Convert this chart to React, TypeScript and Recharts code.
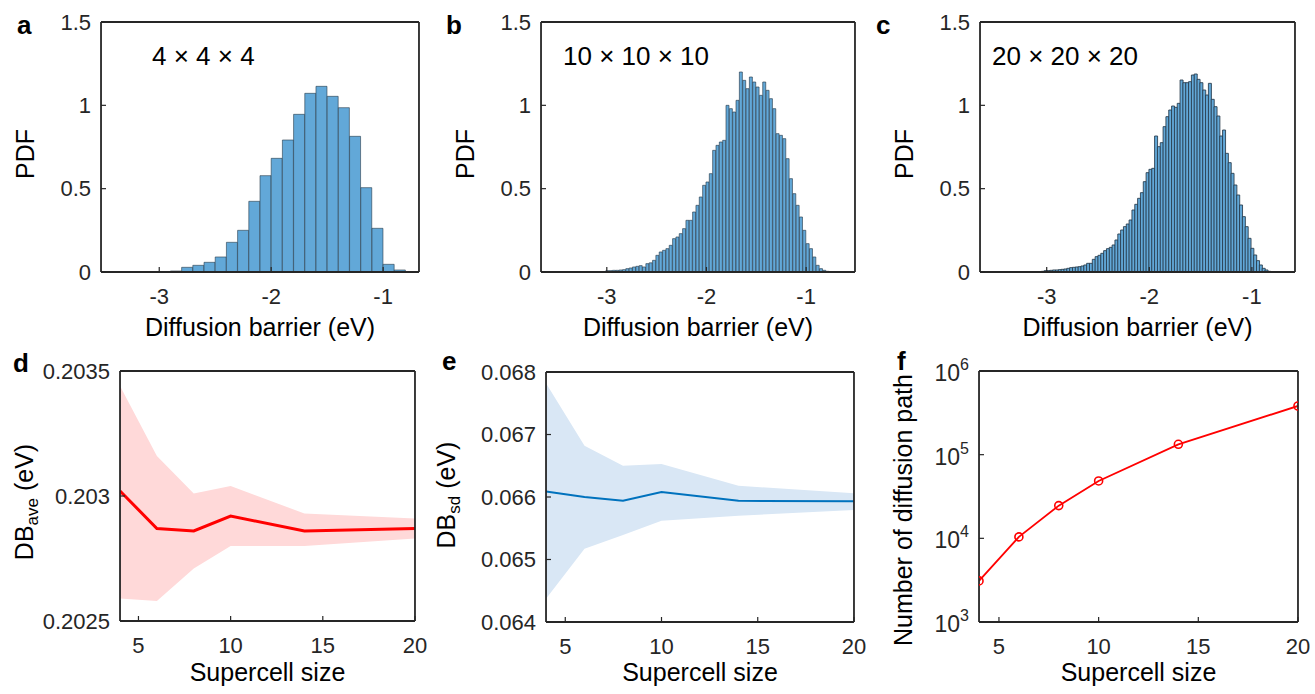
import React from 'react';
import { ComposedChart, Bar, Line, Area, XAxis, YAxis } from 'recharts';

const W = 1315;
const H = 694;
const INK = '#262626';
const FONT = '"Liberation Sans", Arial, Helvetica, sans-serif';

// ---- a/b/c: histograms of diffusion barriers (PDF) ----
const histA = [0.002, 0, 0.002, 0.002, 0, 0.006, 0.028, 0.04, 0.058, 0.09, 0.178, 0.25, 0.424, 0.578, 0.682,
  0.792, 0.946, 1.072, 1.114, 1.054, 0.986, 0.814, 0.506, 0.262, 0.046, 0.012];
const binA = { start: -3.4, width: 0.1 };

const histB = [0.008, 0.008, 0.01, 0.01, 0.012, 0.014, 0.02, 0.024, 0.03, 0.034,
  0.038, 0.03, 0.05, 0.055, 0.07, 0.1, 0.12, 0.13, 0.14, 0.16,
  0.2, 0.21, 0.23, 0.26, 0.31, 0.31, 0.36, 0.4, 0.45, 0.52,
  0.54, 0.59, 0.73, 0.76, 0.78, 0.79, 1.0, 0.98, 0.96, 1.03,
  1.2, 1.15, 1.1, 1.17, 1.14, 1.11, 1.06, 1.14, 1.09, 1.04,
  0.98, 0.83, 0.82, 0.8, 0.68, 0.56, 0.47, 0.4, 0.33, 0.25,
  0.17, 0.14, 0.09, 0.04, 0.02, 0.01, 0.004];
const binB = { start: -3.01, width: 0.0335 };

const histC = [0.002, 0.004, 0.008, 0.008, 0.01, 0.012, 0.012, 0.014, 0.016, 0.018,
  0.022, 0.026, 0.028, 0.03, 0.032, 0.036, 0.042, 0.052, 0.052, 0.076,
  0.092, 0.1, 0.112, 0.128, 0.14, 0.148, 0.162, 0.192, 0.228, 0.252,
  0.272, 0.288, 0.312, 0.372, 0.406, 0.442, 0.476, 0.542, 0.596, 0.616,
  0.622, 0.816, 0.752, 0.776, 0.872, 0.932, 0.972, 0.996, 0.988, 1.012,
  1.152, 1.136, 1.136, 1.142, 1.182, 1.188, 1.156, 1.136, 1.092, 1.062,
  1.132, 1.036, 0.992, 0.936, 0.816, 0.852, 0.712, 0.656, 0.592, 0.522,
  0.462, 0.402, 0.332, 0.272, 0.202, 0.142, 0.102, 0.068, 0.042, 0.022,
  0.012, 0.004];
const binC = { start: -3.08, width: 0.0276 };

const pdfTicks = [0, 0.5, 1, 1.5];
const pdfMinor = [0.1, 0.2, 0.3, 0.4, 0.6, 0.7, 0.8, 0.9, 1.1, 1.2, 1.3, 1.4];
const ebTicks = [-3, -2, -1];
const ebMinor = [-3.6, -3.4, -3.2, -2.8, -2.6, -2.4, -2.2, -1.8, -1.6, -1.4, -1.2, -0.8, -0.6];

// ---- d/e/f: convergence with supercell size ----
const sizes = [4, 6, 8, 10, 14, 20];
const aveMean = [0.20302, 0.20287, 0.20286, 0.20292, 0.20286, 0.20287];
const aveLow = [0.20259, 0.20258, 0.20271, 0.2028, 0.2028, 0.20283];
const aveHigh = [0.20344, 0.20316, 0.20301, 0.20304, 0.20293, 0.20291];

const sdMean = [0.06609, 0.066, 0.06594, 0.06608, 0.06594, 0.06593];
const sdLow = [0.06437, 0.06517, 0.06539, 0.06562, 0.0657, 0.06579];
const sdHigh = [0.06782, 0.06682, 0.0665, 0.06653, 0.06618, 0.06606];

const paths = [3100, 10400, 24600, 48500, 133000, 382000];

const sizeTicks = [5, 10, 15, 20];
const sizeMinor = [6, 7, 8, 9, 11, 12, 13, 14, 16, 17, 18, 19];
const aveTicks = [0.2025, 0.203, 0.2035];
const aveMinor = [0.2026, 0.2027, 0.2028, 0.2029, 0.2031, 0.2032, 0.2033, 0.2034];
const sdTicks = [0.064, 0.065, 0.066, 0.067, 0.068];
const sdMinor = [0.0642, 0.0644, 0.0646, 0.0648, 0.0652, 0.0654, 0.0656, 0.0658, 0.0662, 0.0664,
  0.0666, 0.0668, 0.0672, 0.0674, 0.0676, 0.0678];
const pathTicks = [1e3, 1e4, 1e5, 1e6];
const pathMinor = [2e3, 3e3, 4e3, 5e3, 6e3, 7e3, 8e3, 9e3, 2e4, 3e4, 4e4, 5e4, 6e4, 7e4, 8e4, 9e4,
  2e5, 3e5, 4e5, 5e5, 6e5, 7e5, 8e5, 9e5];

const binRows = (bin: { start: number; width: number }, h: number[]) =>
  h.map((y, i) => ({ x: bin.start + (i + 0.5) * bin.width, y }));

const aveRows = sizes.map((x, i) => ({ x, y: aveMean[i], band: [aveLow[i], aveHigh[i]] }));
const sdRows = sizes.map((x, i) => ({ x, y: sdMean[i], band: [sdLow[i], sdHigh[i]] }));
const pathRows = sizes.map((x, i) => ({ x, y: paths[i] }));

type Box = { l: number; t: number; r: number; b: number };
type Cfg = {
  box: Box;
  xDomain: [number, number];
  yDomain: [number, number];
  xMajor: number[];
  xMinor: number[];
  yMajor: number[];
  yMinor: number[];
  log?: boolean;
};

const tickFont = { fill: INK, fontSize: 22, fontFamily: FONT };

const PowTick = (props: any) => {
  const { x, y, payload } = props;
  const e = Math.round(Math.log10(payload.value));
  return (
    <text x={x} y={y + 10} textAnchor="end" fill={INK} fontSize={23} fontFamily={FONT}>
      10<tspan dy={-11} fontSize={16}>{e}</tspan>
    </text>
  );
};

function frameAxes(c: Cfg) {
  const line = { stroke: INK, strokeWidth: 1.8 };
  const tl = { stroke: INK, strokeWidth: 1.2 };
  const base = { type: 'number' as const, allowDataOverflow: true, interval: 0 as const, stroke: INK, tickLine: tl };
  const xs = { ...base, domain: c.xDomain, height: 0.01 };
  const ys = { ...base, domain: c.yDomain, width: 0.01, scale: (c.log ? 'log' : 'linear') as any };
  return [
    <XAxis key="x" xAxisId="x" dataKey="x" {...xs} ticks={c.xMajor} tick={tickFont} tickSize={-5} tickMargin={21} axisLine={line} />,
    <XAxis key="xm" xAxisId="xm" {...xs} ticks={c.xMinor} tick={false} tickSize={-3} axisLine={false} />,
    <XAxis key="xt" xAxisId="xt" orientation="top" {...xs} ticks={c.xMajor} tick={false} tickSize={-5} axisLine={line} />,
    <XAxis key="xtm" xAxisId="xtm" orientation="top" {...xs} ticks={c.xMinor} tick={false} tickSize={-3} axisLine={false} />,
    <YAxis key="y" yAxisId="y" {...ys} ticks={c.yMajor} tick={c.log ? <PowTick /> : tickFont} tickSize={-5} tickMargin={15} axisLine={line} />,
    <YAxis key="ym" yAxisId="ym" {...ys} ticks={c.yMinor} tick={false} tickSize={-3} axisLine={false} />,
    <YAxis key="yr" yAxisId="yr" orientation="right" {...ys} ticks={c.yMajor} tick={false} tickSize={-5} axisLine={line} />,
    <YAxis key="yrm" yAxisId="yrm" orientation="right" {...ys} ticks={c.yMinor} tick={false} tickSize={-3} axisLine={false} />,
  ];
}

const margins = (b: Box) => ({ top: b.t, left: b.l, right: W - b.r, bottom: H - b.b });
const layer: React.CSSProperties = { position: 'absolute', left: 0, top: 0 };

const Histogram = ({ cfg, rows, edge, ew }: { cfg: Cfg; rows: { x: number; y: number }[]; edge: number; ew: number }) => (
  <div style={layer}>
    <ComposedChart width={W} height={H} data={rows} margin={margins(cfg.box)} barCategoryGap={0} barGap={0}>
      {frameAxes(cfg)}
      <Bar xAxisId="x" yAxisId="y" dataKey="y" fill="#62A8D8" stroke="#263a4a" strokeOpacity={edge} strokeWidth={ew} isAnimationActive={false} />
    </ComposedChart>
  </div>
);

const BandPlot = ({ cfg, rows, band, line, lw }: { cfg: Cfg; rows: any[]; band: string; line: string; lw: number }) => (
  <div style={layer}>
    <ComposedChart width={W} height={H} data={rows} margin={margins(cfg.box)}>
      {frameAxes(cfg)}
      <Area xAxisId="x" yAxisId="y" type="linear" dataKey="band" fill={band} fillOpacity={1} stroke="none" isAnimationActive={false} />
      <Line xAxisId="x" yAxisId="y" type="linear" dataKey="y" stroke={line} strokeWidth={lw} dot={false} isAnimationActive={false} />
    </ComposedChart>
  </div>
);

const cfgA: Cfg = { box: { l: 101, t: 22, r: 419, b: 272 }, xDomain: [-3.52, -0.68], yDomain: [0, 1.5], xMajor: ebTicks, xMinor: ebMinor.filter(v => v > -3.52 && v < -0.68), yMajor: pdfTicks, yMinor: pdfMinor };
const cfgB: Cfg = { box: { l: 541, t: 22, r: 855, b: 272 }, xDomain: [-3.66, -0.51], yDomain: [0, 1.5], xMajor: ebTicks, xMinor: ebMinor, yMajor: pdfTicks, yMinor: pdfMinor };
const cfgC: Cfg = { box: { l: 980, t: 22, r: 1295, b: 272 }, xDomain: [-3.65, -0.58], yDomain: [0, 1.5], xMajor: ebTicks, xMinor: ebMinor.filter(v => v < -0.58), yMajor: pdfTicks, yMinor: pdfMinor };
const cfgD: Cfg = { box: { l: 120, t: 371, r: 415, b: 621 }, xDomain: [4, 20], yDomain: [0.2025, 0.2035], xMajor: sizeTicks, xMinor: sizeMinor, yMajor: aveTicks, yMinor: aveMinor };
const cfgE: Cfg = { box: { l: 546, t: 372, r: 854, b: 622 }, xDomain: [4, 20], yDomain: [0.064, 0.068], xMajor: sizeTicks, xMinor: sizeMinor, yMajor: sdTicks, yMinor: sdMinor };
const cfgF: Cfg = { box: { l: 979, t: 371, r: 1298, b: 622 }, xDomain: [4, 20], yDomain: [1e3, 1e6], xMajor: sizeTicks, xMinor: sizeMinor, yMajor: pathTicks, yMinor: pathMinor, log: true };

const txt = { fill: '#000', fontFamily: FONT };

const YTitle = ({ x, y, children }: { x: number; y: number; children: React.ReactNode }) => (
  <text transform={`translate(${x},${y}) rotate(-90)`} textAnchor="middle" fontSize={25} {...txt}>{children}</text>
);

const XTitle = ({ b, y, children }: { b: Box; y: number; children: React.ReactNode }) => (
  <text x={(b.l + b.r) / 2} y={y} textAnchor="middle" fontSize={25} {...txt}>{children}</text>
);

const Tag = ({ x, y, t }: { x: number; y: number; t: string }) => (
  <text x={x} y={y} fontSize={26} fontWeight="bold" {...txt}>{t}</text>
);

export default function App() {
  return (
    <div style={{ position: 'absolute', left: 0, top: 0, width: W, height: H, background: '#fff', overflow: 'hidden' }}>
      <Histogram cfg={cfgA} rows={binRows(binA, histA)} edge={0.75} ew={0.8} />
      <Histogram cfg={cfgB} rows={binRows(binB, histB)} edge={0.8} ew={0.8} />
      <Histogram cfg={cfgC} rows={binRows(binC, histC)} edge={0.85} ew={1} />
      <BandPlot cfg={cfgD} rows={aveRows} band="#FFD9D9" line="#FF0000" lw={3} />
      <BandPlot cfg={cfgE} rows={sdRows} band="#D9E7F5" line="#0072BD" lw={2} />
      <div style={layer}>
        <ComposedChart width={W} height={H} data={pathRows} margin={margins(cfgF.box)}>
          {frameAxes(cfgF)}
          <Line xAxisId="x" yAxisId="y" type="linear" dataKey="y" stroke="#FF0000" strokeWidth={1.8}
            dot={{ r: 4, stroke: '#FF0000', strokeWidth: 1.6, fill: 'none' }} isAnimationActive={false} />
        </ComposedChart>
      </div>
      <svg width={W} height={H} style={{ ...layer, pointerEvents: 'none' }}>
        <Tag x={17} y={34} t="a" />
        <Tag x={446} y={34} t="b" />
        <Tag x={876} y={34} t="c" />
        <Tag x={13} y={372} t="d" />
        <Tag x={442} y={370} t="e" />
        <Tag x={897} y={370} t="f" />

        <text x={152} y={65} fontSize={26} {...txt}>4 × 4 × 4</text>
        <text x={563} y={65} fontSize={26} {...txt}>10 × 10 × 10</text>
        <text x={992} y={65} fontSize={26} {...txt}>20 × 20 × 20</text>

        <YTitle x={34} y={154}>PDF</YTitle>
        <YTitle x={474} y={154}>PDF</YTitle>
        <YTitle x={913} y={154}>PDF</YTitle>
        <YTitle x={33} y={502}>DB<tspan fontSize={17} dy={5}>ave</tspan><tspan dy={-5}> (eV)</tspan></YTitle>
        <YTitle x={455} y={495}>DB<tspan fontSize={17} dy={5}>sd</tspan><tspan dy={-5}> (eV)</tspan></YTitle>
        <YTitle x={912} y={510}>Number of diffusion path</YTitle>

        <XTitle b={cfgA.box} y={336}>Diffusion barrier (eV)</XTitle>
        <XTitle b={cfgB.box} y={336}>Diffusion barrier (eV)</XTitle>
        <XTitle b={cfgC.box} y={336}>Diffusion barrier (eV)</XTitle>
        <XTitle b={cfgD.box} y={681}>Supercell size</XTitle>
        <XTitle b={cfgE.box} y={681}>Supercell size</XTitle>
        <XTitle b={cfgF.box} y={681}>Supercell size</XTitle>
      </svg>
    </div>
  );
}
